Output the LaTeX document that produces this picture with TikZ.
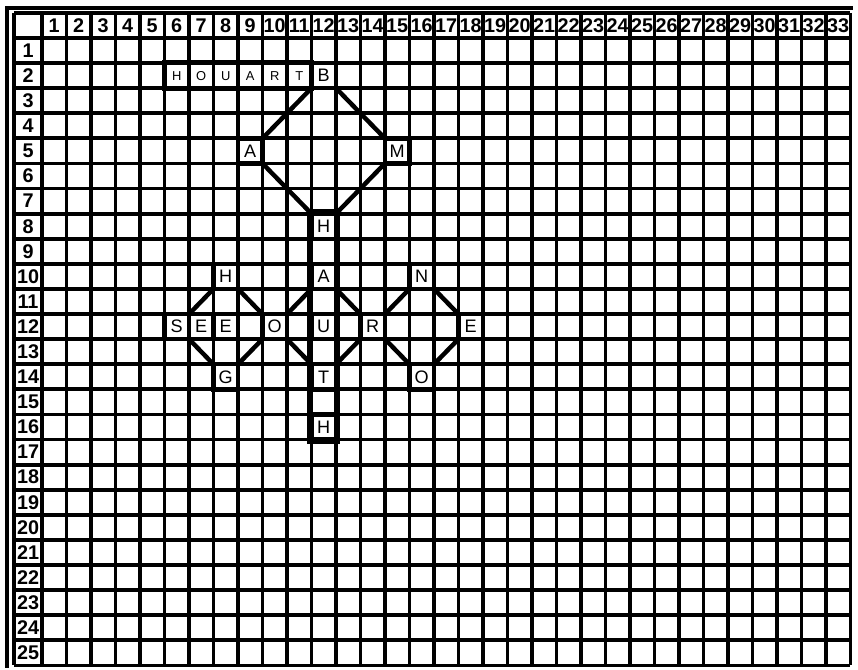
\documentclass[tikz,border=0pt]{standalone}
\usepackage{fontspec}
\setmainfont{Liberation Sans}
\usetikzlibrary{positioning}

\begin{document}
\begin{tikzpicture}[x=0.5cm, y=0.5122cm,
    gridline/.style={line width=2.2pt},
    frame/.style={line width=2.4pt},
    headnum/.style={inner sep=0pt, font=\bfseries\fontsize{11.5}{12}\selectfont},
    letter/.style={rectangle, draw=black, line width=2.6pt, fill=white, minimum width=0.5cm, minimum height=0.5122cm, inner sep=0pt, font=\fontsize{10.5}{11}\selectfont},
    smallletter/.style={rectangle, minimum width=0.5cm, minimum height=0.5122cm, inner sep=0pt, font=\fontsize{7.5}{8}\selectfont},
    link/.style={line width=2.6pt, line cap=round}]

\useasboundingbox (-1.714,1.514) rectangle (33.31,-25.18);

% Grid with header row and header column
\foreach \c in {0,...,33} \draw[gridline] (\c,1) -- (\c,-25);
\foreach \r in {0,...,25} \draw[gridline] (-1.14,-\r) -- (33,-\r);
\draw[gridline] (-1.14,1) -- (33,1);
\draw[gridline] (-1.14,1) -- (-1.14,-25);

% Outer frame (left and top)
\draw[frame] (-1.43,-25.1) -- (-1.43,1.2) -- (33.1,1.2);

% Column and row numbers
\foreach \c in {1,...,33} \node[headnum] at (\c-0.5,0.5) {\c};
\foreach \r in {1,...,25} \node[headnum] at (-0.57,-\r+0.5) {\r};

% Row 2: the strip of small letters
\node[smallletter] (s1) at (5.5,-1.5) {H};
\node[smallletter] (s2) at (6.5,-1.5) {O};
\node[smallletter] (s3) at (7.5,-1.5) {U};
\node[smallletter] (s4) at (8.5,-1.5) {A};
\node[smallletter] (s5) at (9.5,-1.5) {R};
\node[smallletter] (s6) at (10.5,-1.5) {T};
\draw[line width=2.8pt] (s1.north west) rectangle (s6.south east);

% Upper diamond
\node[letter] (b) at (11.5,-1.5) {B};
\node[letter] (a) at (8.5,-4.5) {A};
\node[letter] (m) at (14.5,-4.5) {M};
\node[letter] (h) at (11.5,-7.5) {H};

% Column 12 spine
\node[letter] (hb) at (11.5,-15.5) {H};
\draw[line width=2.5pt] (h.north west) rectangle (hb.south east);
\node[letter] (a2) at (11.5,-9.5) {A};
\node[letter] (u) at (11.5,-11.5) {U};
\node[letter] (t) at (11.5,-13.5) {T};

% Left diamond
\node[letter] (hl) at (7.5,-9.5) {H};
\node[letter] (se1) at (5.5,-11.5) {S};
\node[letter] (se2) at (6.5,-11.5) {E};
\node[letter] (se3) at (7.5,-11.5) {E};
\node[letter] (g) at (7.5,-13.5) {G};
\node[letter] (o1) at (9.5,-11.5) {O};

% Right diamond
\node[letter] (r) at (13.5,-11.5) {R};
\node[letter] (n) at (15.5,-9.5) {N};
\node[letter] (e) at (17.5,-11.5) {E};
\node[letter] (o2) at (15.5,-13.5) {O};

% Diagonal links
\draw[link] (b.south west) -- (a.north east);
\draw[link] (b.south east) -- (m.north west);
\draw[link] (a.south east) -- (h.north west);
\draw[link] (m.south west) -- (h.north east);

\draw[link] (hl.south west) -- (se1.north east);
\draw[link] (hl.south east) -- (o1.north west);
\draw[link] (se1.south east) -- (g.north west);
\draw[link] (g.north east) -- (o1.south west);

\draw[link] (o1.north east) -- (a2.south west);
\draw[link] (a2.south east) -- (r.north west);
\draw[link] (o1.south east) -- (t.north west);
\draw[link] (t.north east) -- (r.south west);

\draw[link] (r.north east) -- (n.south west);
\draw[link] (n.south east) -- (e.north west);
\draw[link] (r.south east) -- (o2.north west);
\draw[link] (o2.north east) -- (e.south west);

\end{tikzpicture}
\end{document}
